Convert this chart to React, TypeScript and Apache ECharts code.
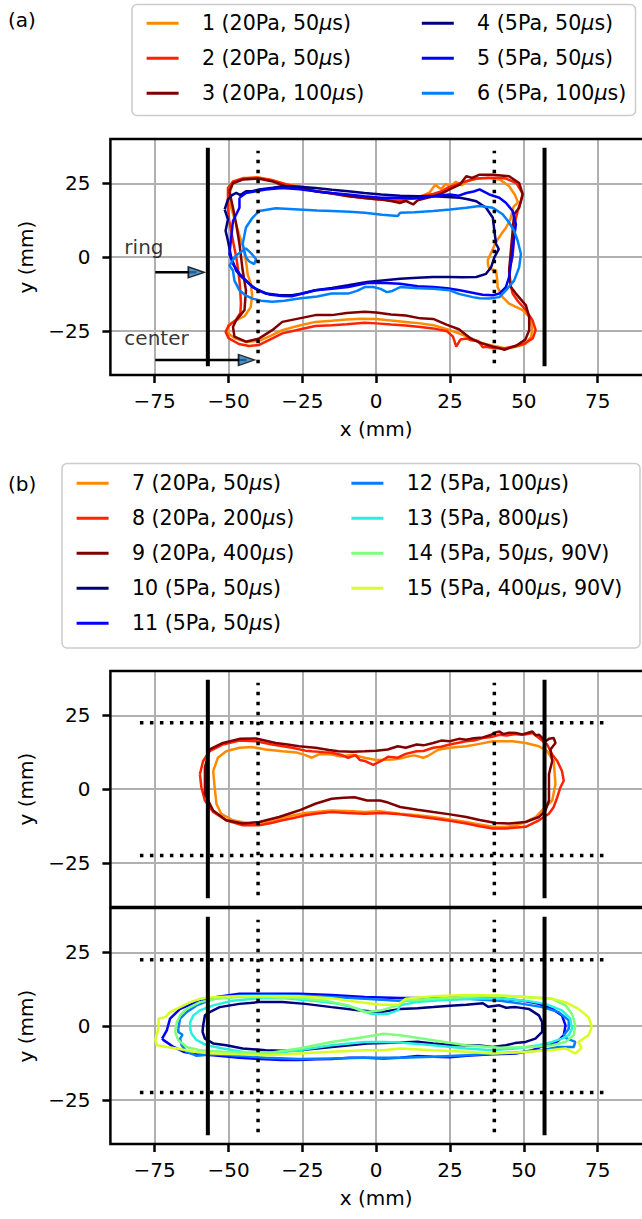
import React, { useEffect, useRef } from 'react';
import * as echarts from 'echarts';

const FONT = 'DejaVu Sans';

// ---------- axes ----------
const X_TICKS = [-75, -50, -25, 0, 25, 50, 75];
const Y_TICKS = [-25, 0, 25];
const X_MIN = -90;
const X_MAX = 90;
const Y_MIN = -40;
const Y_MAX = 40;

// ---------- legend names & colours ----------
const NAMES_A = ['1 (20Pa, 50μs)', '2 (20Pa, 50μs)', '3 (20Pa, 100μs)', '4 (5Pa, 50μs)', '5 (5Pa, 50μs)', '6 (5Pa, 100μs)'];
const COLORS_A = ['#ff8a00', '#ff2200', '#800000', '#000080', '#0000ff', '#0080ff'];
const NAMES_B_TOP = ['7 (20Pa, 50μs)', '8 (20Pa, 200μs)', '9 (20Pa, 400μs)'];
const COLORS_B_TOP = ['#ff8a00', '#ff2200', '#800000'];
const NAMES_B_BOT = ['10 (5Pa, 50μs)', '11 (5Pa, 50μs)', '12 (5Pa, 100μs)', '13 (5Pa, 800μs)', '14 (5Pa, 50μs, 90V)', '15 (5Pa, 400μs, 90V)'];
const COLORS_B_BOT = ['#000080', '#0000ff', '#0080ff', '#26f2dc', '#7dff7a', '#d7ff1f'];

// ---------- contours, panel (a) ----------
const CURVE_1: number[][] = [
  [-49.5, 22], [-48.5, 25.5], [-45, 26.8], [-40, 27], [-35, 26], [-30, 24.5], [-26, 24], [-20, 22.2], [-15, 21.6], [-10, 20.8],
  [-5, 20.2], [0, 19.6], [5, 19.2], [8, 18.2], [10, 19.5], [15, 20.5], [18, 21.8], [20, 24.5], [22, 23], [23.5, 24.8],
  [25, 24], [27, 25.5], [29, 24.3], [31, 25.8], [34, 26.5], [38, 26.8], [42, 26.2], [45, 24], [47, 21], [48, 18.5],
  [46.5, 17], [45.5, 13], [44, 10], [42.5, 8], [40.5, 5], [39.5, 2.7], [37.8, -1], [37.8, -2.4], [38.3, -4], [40.6, -4.6],
  [41, -8], [41.1, -10.2], [42.8, -13.6], [45, -15.8], [49.6, -18], [51.8, -20.3], [52.8, -24], [52.5, -27], [50.5, -29.5], [47, -30.5],
  [44, -31], [40, -30.2], [36, -29.3], [32, -27.5], [28, -25.9], [24, -24.5], [19.3, -23.1], [15, -22.5], [10, -22], [5, -21.5],
  [0, -21], [-5, -20.9], [-10, -21.2], [-15, -21.6], [-20.6, -22], [-26, -23.2], [-31.8, -24.8], [-36, -26.8], [-39.6, -28.4], [-44, -28.8],
  [-48, -27.5], [-50.5, -25.5], [-50, -23], [-47.5, -21.5], [-44.5, -20], [-42.5, -17], [-42, -13], [-42.5, -9], [-43.5, -6], [-44, -2],
  [-45, 3], [-46.5, 8], [-48, 13], [-49.5, 18],
];
const CURVE_2: number[][] = [
  [-50.2, 16.7], [-50.2, 20], [-50.2, 23.4], [-48.5, 25.6], [-45, 26.6], [-40.7, 26.9], [-36, 26.2], [-32, 25], [-26.2, 23.6], [-20, 22.2],
  [-15, 21.6], [-9.5, 20.8], [-4, 20], [0, 19.6], [4, 19.3], [8.1, 19.2], [12, 19.8], [15, 20.6], [19.3, 21.4], [22, 22.2],
  [24, 23.4], [27, 24.5], [30.5, 25.7], [34, 26.6], [38, 26.9], [41, 26.9], [44, 26.6], [47.5, 25], [49.6, 21.5], [49, 19],
  [47.9, 15.6], [47, 12], [46.7, 8.9], [46.5, 4.5], [46.2, 0], [45.2, -3.5], [45, -6.8], [45.5, -9.5], [46.2, -12.4], [48, -15],
  [50.7, -18], [52.9, -21.4], [54, -24.8], [53, -27.6], [50, -29.5], [47.3, -30.2], [43, -31], [40, -30.9], [37, -30.4], [36.1, -30.6],
  [34.5, -28.5], [32, -28.2], [30.5, -27.6], [28.5, -28], [27.1, -30.4], [26, -27], [24, -25.2], [19.3, -24.2], [15, -23.7], [10, -23.2],
  [5, -22.9], [0, -22.5], [-3.9, -22.3], [-10, -22.8], [-15, -23.1], [-20.6, -23.4], [-26, -24.6], [-31.8, -25.9], [-36, -28], [-39.6, -29.8],
  [-43, -30.2], [-46.5, -29.5], [-50, -27.5], [-51, -25.3], [-50, -23.4], [-47.5, -21.3], [-46, -19], [-45.8, -15.8], [-46, -12], [-46.3, -8],
  [-46.8, -4], [-47.4, 0], [-48.3, 4.5], [-49.1, 8.9], [-49.8, 12.5],
];
const CURVE_3: number[][] = [
  [-49.7, 22.3], [-48.5, 25], [-45, 26.3], [-40, 26.6], [-35, 25.6], [-30.7, 24], [-26, 23.4], [-20.6, 22.3], [-15, 21.5], [-9.5, 20.6],
  [-4, 20], [1.7, 19.5], [5, 19], [8.1, 18.4], [10, 19], [12.5, 17.8], [14, 19.2], [17, 20], [19.3, 20.6], [22, 21.5],
  [25, 23], [28.3, 24.5], [30.5, 27.4], [32.5, 26.8], [35, 27.9], [39.5, 27.9], [45, 27.4], [48.4, 25.1], [49.6, 21.2], [48.4, 16.7],
  [46.7, 14.5], [46.2, 8.9], [45.6, 2.1], [45, -4.6], [45.6, -10.2], [47.3, -12.4], [50.7, -16.4], [51.8, -20.3], [51.8, -24.8], [50.5, -28],
  [47.5, -30], [45, -30.9], [43.4, -31.5], [41.5, -30.8], [39.5, -30.4], [35, -29], [32, -27.6], [28, -24.5], [24, -23], [19.3, -21],
  [15, -20.8], [10, -19.8], [5, -19.5], [0, -18.8], [-3.9, -18.6], [-10, -19], [-15, -19.7], [-20.6, -19.7], [-26, -20.8], [-31.8, -22],
  [-35.2, -24.8], [-39.6, -27.6], [-44.1, -28.7], [-48, -27], [-48.5, -23.7], [-47.4, -21.4], [-44.6, -18], [-44.1, -11.3], [-45.2, -4.6], [-46.3, 4.4],
  [-47.4, 11.1], [-48.5, 16.7],
];
const CURVE_4: number[][] = [
  [-51.3, 16.1], [-50.2, 19.5], [-48.8, 21], [-47.4, 21.7], [-46, 21], [-44.1, 22.3], [-42, 22.3], [-39.6, 22.9], [-35, 23.5], [-31.8, 24],
  [-26, 23.8], [-20.6, 23.4], [-15, 22.8], [-9.5, 22.3], [-4, 21.7], [1.7, 21.2], [8.1, 20.8], [14, 20.6], [19.3, 20.6], [24, 20.3],
  [28.3, 20.1], [31, 19.6], [33.9, 18.9], [37.2, 16.7], [39.5, 13.3], [40, 8.9], [40.6, 4.4], [41.5, 2.7], [40, -0.1], [38.9, -3.5],
  [37.2, -5.7], [33.9, -6.8], [29, -6.9], [24.9, -6.8], [19.3, -6.8], [14, -7], [8.1, -7.4], [3, -7.9], [-3.1, -8.5], [-9.5, -9.6],
  [-15, -10.5], [-20.6, -11.3], [-25, -12.4], [-28.5, -13], [-33, -12.9], [-37.4, -12.4], [-40.5, -11], [-43, -9.1], [-45.5, -6.8], [-47.4, -4.6],
  [-49.1, -0.1], [-50.2, 5.5], [-51, 8.9], [-50.2, 12.8],
];
const CURVE_5: number[][] = [
  [-46.3, 20.1], [-44.1, 21.7], [-40.7, 22.3], [-37.4, 22.9], [-31.8, 23.4], [-26, 23], [-20.6, 22.3], [-15, 21.7], [-9.5, 21.2], [-4, 20.6],
  [1.7, 20.1], [8.1, 20.1], [13, 19.8], [19.3, 20.6], [24.9, 21.2], [28, 20.8], [30.5, 21.7], [33, 22.2], [35, 22.9], [38.3, 21.2],
  [41.7, 20.1], [43.9, 18.4], [46.2, 15.6], [47.3, 11.1], [46.7, 6.6], [46.2, 2.1], [45.6, -2.4], [45, -6.8], [43.9, -10.2], [41.7, -12.4],
  [39.5, -13], [36, -12.8], [33.9, -12.4], [30, -11.6], [28.3, -11.3], [24, -10.6], [19.3, -10.2], [14, -9.9], [8.1, -9.1], [3, -8.8],
  [-3.1, -8.8], [-9.5, -10.2], [-15, -10.8], [-20.6, -11.3], [-25, -12.4], [-28.5, -13.3], [-32, -13.2], [-36.3, -12.7], [-39, -11.6], [-41.9, -10.2],
  [-44, -8], [-46.3, -5.7], [-48.5, -2.4], [-49.7, 1], [-49.1, 6.6], [-48.5, 12.2], [-46.3, 16.7],
];
const CURVE_6: number[][] = [
  [-41.9, 13.3], [-39.6, 15.6], [-34, 16.5], [-26.2, 16.1], [-20, 15.8], [-15.1, 15.6], [-9, 15.3], [-3.9, 15], [2, 14.3], [7.3, 13.9],
  [8.1, 15], [13, 15.2], [19.3, 15.6], [25, 16.1], [30.5, 16.7], [35, 17.3], [39.5, 16.7], [42.8, 14.5], [45, 11.7], [46.7, 8.9],
  [47.9, 5.5], [49, 1], [48.4, -3.5], [46.7, -8], [43.9, -11.3], [41.7, -13.6], [38.3, -14.1], [35, -14], [32.7, -13.6], [28, -12.5],
  [24.9, -11.3], [19.3, -10.8], [14, -10.6], [8.1, -10.2], [5.5, -11.5], [3.6, -11.9], [1.5, -10.8], [-1, -10.2], [-3.9, -10.2], [-6.5, -11.5],
  [-9.5, -12.4], [-15.1, -12.4], [-20, -13.4], [-26.2, -14.1], [-31, -14.8], [-35.2, -15.2], [-39, -14.8], [-41.9, -14.1], [-44.5, -12.8], [-46.3, -11.3],
  [-48, -8], [-48.5, -4.6], [-49.7, -2.9], [-47.5, 0.5], [-45.2, 2.1], [-44.1, 2.9], [-42.3, 1.2], [-40.7, -0.7], [-41.3, -2.4], [-43, -1.5],
  [-44.1, -0.1], [-45.2, 4.4], [-44.6, 7.5], [-44.1, 10],
];

// ---------- contours, panel (b) upper ----------
const CURVE_7: number[][] = [
  [-55.2, 6.1], [-54.7, 0.6], [-54.1, -5], [-52.5, -8.4], [-48.5, -10.6], [-43, -11.7], [-37.4, -11.2], [-30.7, -9.5], [-24, -8.1], [-15.1, -7.3],
  [-8, -7.5], [-3.9, -7.8], [1, -7.5], [8.1, -8.4], [14, -8.9], [19.3, -9.5], [25, -10.3], [30.5, -11.2], [35, -12], [39.4, -12.8],
  [43.5, -12.9], [47.3, -12.3], [51, -11], [54, -9.5], [57.3, -6.1], [59.6, -3.9], [60.7, 1.7], [60.1, 9.5], [57.9, 12.8], [55.1, 14.5],
  [50.6, 15.6], [46.1, 16.2], [39.4, 16.2], [35, 15.3], [30.5, 14.5], [24.9, 14], [21, 13.3], [19.3, 12.3], [17.5, 11.2], [15.9, 10.6],
  [13, 11.4], [11.4, 11.2], [8, 10.3], [5.8, 10], [0, 9.8], [-3.9, 10.6], [-8, 11.6], [-12, 11], [-15.1, 11.7], [-19, 11.9],
  [-21.8, 10.6], [-24, 11.5], [-27, 12.4], [-31.8, 12.8], [-37.4, 13.4], [-41.9, 14.2], [-46.3, 14], [-50.8, 12.8], [-53.6, 10.6],
];
const CURVE_8: number[][] = [
  [-59.7, 5], [-58.6, 9.5], [-56.4, 12.8], [-51.9, 15.1], [-46.3, 16.4], [-40.7, 16.2], [-35.2, 15.1], [-28.5, 14], [-24, 13], [-21.8, 12.8],
  [-18, 12.5], [-15.1, 12.3], [-12, 11.6], [-9.5, 10.6], [-7, 11.5], [-5.5, 9.8], [-3.9, 9.5], [-1, 8.2], [1.7, 9.5], [4, 10.9],
  [7.3, 10.6], [10, 11.9], [13.7, 12.8], [16, 12.9], [19.3, 14], [22, 14.3], [24.9, 15.1], [27, 15.5], [30.5, 16.2], [33, 16.4],
  [36.1, 17.3], [39, 17.6], [41.7, 18.4], [44, 18.1], [47.3, 18.6], [50, 18.4], [52.9, 19], [55.1, 17.3], [57.9, 15.1], [59.6, 11.7],
  [61.3, 9.5], [62.9, 6.1], [63.5, 2.8], [62.4, 0.6], [61.3, -2.8], [60.1, -6.1], [58.5, -8.4], [55.1, -10.6], [50.6, -12.8], [43.9, -13.4],
  [39.4, -13.4], [35, -12.6], [30.5, -11.7], [25, -10.8], [19.3, -10], [14, -9.3], [8.1, -8.6], [2, -8.1], [-3.9, -8.4], [-10, -8.1],
  [-15.1, -7.8], [-20, -8.3], [-24, -8.9], [-28, -9.8], [-31.8, -10.6], [-35.5, -11.5], [-39.6, -12.3], [-45.2, -12.3], [-50.8, -10.6], [-55.2, -7.8],
  [-58, -3.9], [-59.2, 0.6],
];
const CURVE_9: number[][] = [
  [-56.4, 13.4], [-51.9, 15.6], [-46.3, 17], [-40.7, 17.1], [-37, 16.3], [-34, 15.6], [-30, 15.1], [-26.2, 14.5], [-20.6, 14], [-16, 13.2],
  [-12.8, 12.8], [-8, 12.6], [-3.9, 12.8], [0, 13], [3.9, 13.4], [7.3, 14.5], [10, 14], [13.7, 15.1], [16, 14.8], [19.3, 15.6],
  [22, 16.4], [24.9, 16.2], [28, 17], [30.5, 16.7], [33, 17.2], [36.1, 17.5], [38.5, 18.2], [40.5, 19.2], [41.7, 19.5], [43, 18.6],
  [45, 19.1], [47.3, 19], [49.5, 18.5], [52.9, 19.5], [54, 18.2], [55.1, 18.4], [57.3, 16.2], [58.5, 17], [60.1, 17.3], [60.7, 15.6],
  [59, 13.4], [59.6, 9.5], [58.5, 5], [58.5, 0.6], [58.5, -3.9], [57.3, -7.3], [55.1, -9.5], [50.6, -11.2], [45, -11.7], [40.5, -11.5],
  [35, -10.5], [30.5, -9.5], [25, -8.6], [19.3, -7.8], [14, -7], [8.1, -6.1], [4, -4.6], [1.3, -3.9], [-3.1, -3.9], [-7.3, -2.8],
  [-11, -3], [-15.1, -3.3], [-20.6, -5], [-26.2, -7.3], [-32.9, -9.5], [-39.6, -11.2], [-45.2, -11.7], [-50.8, -10.6], [-55.2, -7.3], [-58, -1.7],
  [-58, 7.3],
];

// ---------- contours, panel (b) lower ----------
const CURVE_10: number[][] = [
  [-58.6, 0.2], [-58, 3.6], [-56.4, 4.7], [-53, 6.4], [-46.3, 7.5], [-39.6, 8.1], [-31.8, 8.1], [-24, 7.5], [-15.1, 6.4], [-6.1, 5.3],
  [1.7, 4.7], [8.1, 5.8], [14, 6], [19.3, 6.4], [25, 6.9], [30.5, 7.2], [36.1, 7.7], [38, 6.5], [41.7, 7], [44, 6.2],
  [47.3, 6.4], [51.7, 5.8], [55.1, 3.6], [56.2, 1.3], [56.2, -2], [53.9, -4.3], [50.6, -5.4], [47, -5.8], [43.9, -6.5], [39.4, -7.1],
  [35, -6.6], [30.5, -6.5], [25, -6.4], [19.3, -5.9], [14, -5.3], [8.1, -5.6], [2.5, -5.8], [-3.1, -5.9], [-9, -6.5], [-15.1, -7.1],
  [-20, -7.6], [-26.2, -8.2], [-32, -8.4], [-37.4, -8.2], [-45.2, -7.6], [-50.8, -6.5], [-55.2, -5.9], [-58, -4.3], [-58.8, -2],
];
const CURVE_11: number[][] = [
  [-72.5, -4.3], [-70.9, -1.5], [-69.8, 2.5], [-66.4, 5.8], [-60.8, 8.1], [-54.1, 9.8], [-46.3, 10.9], [-37.4, 10.9], [-26.2, 10.9], [-15.1, 10.5],
  [-3.9, 9.8], [8.1, 9.5], [19.3, 9.6], [30.5, 9.8], [41.7, 9.4], [49.5, 8.6], [55.1, 7.5], [59.6, 5.8], [62.9, 3.6], [64.1, 0.2],
  [63.5, -3.1], [61.3, -5.4], [57.3, -6.5], [52.9, -8.2], [47.3, -9.3], [39.4, -9.6], [30.5, -10.1], [25, -10.6], [19.3, -10.4], [14, -10.2],
  [8.1, -10.8], [2.5, -11], [-3.9, -10.8], [-9, -10.8], [-15.1, -11.2], [-20, -11.3], [-26.2, -11.5], [-32, -11.5], [-37.4, -11.3], [-46.3, -10.8],
  [-55.2, -9.9], [-60.8, -9.6], [-65.3, -8.7], [-68.6, -7.1], [-72, -4.8],
];
const CURVE_12: number[][] = [
  [-67, -0.9], [-66.4, 2.5], [-64.2, 4.7], [-60.8, 7], [-55.2, 9.2], [-46.3, 10.3], [-37.4, 10.5], [-26.2, 10.3], [-15.1, 9.8], [-3.9, 9.2],
  [7.3, 8.6], [19.3, 8.9], [30.5, 9.2], [41.7, 8.6], [49.5, 7.5], [56.2, 6.4], [61.8, 4.7], [65.2, 1.9], [65.2, -0.9], [63.5, -3.1],
  [64.5, -4.2], [67.4, -5.4], [66.9, -7.1], [61.8, -7.1], [56.2, -8.2], [47.3, -9], [39.4, -9.3], [30.5, -9.9], [19.3, -10.4], [8.1, -10.8],
  [-3.9, -10.8], [-15.1, -11], [-26.2, -11.2], [-37.4, -10.8], [-46.3, -10.1], [-55.2, -9.6], [-60.8, -10.1], [-64.2, -8.7], [-65.9, -6.5], [-66.4, -4.3],
  [-65.6, -3], [-67, -2],
];
const CURVE_13: number[][] = [
  [-63, -0.9], [-63, 1.3], [-61.9, 3.6], [-59.7, 5.3], [-55.2, 7], [-48.5, 8.6], [-39.6, 9.4], [-30.7, 9.4], [-21.8, 8.6], [-12.8, 7.5],
  [-6.1, 5.8], [-1.7, 4.1], [3.9, 4.1], [7.3, 5.3], [8.1, 7], [13.7, 8.1], [19.3, 8.6], [30.5, 9.2], [41.7, 9.4], [50.6, 8.6],
  [57.3, 7.5], [62.9, 5.3], [65.7, 2.5], [66.3, -0.9], [65.2, -3.1], [62.9, -4.3], [59.6, -5.4], [55.1, -6.5], [47.3, -7.6], [39.4, -8.2],
  [30.5, -7.6], [19.3, -6.5], [8.1, -5.6], [2.5, -5.4], [-3.9, -5.4], [-15.1, -6.5], [-26.2, -8.2], [-35.2, -9.3], [-44.1, -9], [-51.9, -7.6],
  [-57.5, -6.5], [-60.8, -4.8], [-62.5, -2.6],
];
const CURVE_14: number[][] = [
  [-68.1, -2], [-67.5, 1.3], [-66.4, 3.6], [-64.2, 5.8], [-59.7, 8.1], [-54.1, 9.2], [-46.3, 9.8], [-37.4, 9.8], [-26.2, 9.4], [-17.3, 8.6],
  [-9.5, 7], [-3.9, 4.7], [1.7, 5.3], [7.3, 7], [10, 8.6], [19.3, 9.2], [30.5, 9.8], [41.7, 10.3], [50.6, 9.8], [59.6, 9.2],
  [64.1, 7], [66.3, 4.1], [67.4, 0.2], [66.9, -3.1], [64.1, -5.4], [59.6, -6.5], [52.9, -7.1], [41.7, -7.4], [30.5, -6.5], [19.3, -4.8],
  [8.1, -3.1], [2.5, -2.6], [-3.9, -3.7], [-15.1, -5.4], [-26.2, -7.6], [-35.2, -9], [-44.1, -9], [-51.9, -8.7], [-59.7, -8.2], [-64.2, -7.1],
  [-67, -4.8],
];
const CURVE_15: number[][] = [
  [-73.7, -0.3], [-73.7, 2.5], [-71.4, 3], [-69.8, 4.7], [-66.4, 6.4], [-63, 8.1], [-59.7, 9.2], [-54.1, 9.8], [-46.3, 10.1], [-37.4, 10.1],
  [-26.2, 10.1], [-15.1, 9.4], [-6.1, 8.1], [1.7, 7.2], [7.3, 7.2], [10, 9.2], [19.3, 10.1], [30.5, 10.5], [41.7, 10.3], [50.6, 9.8],
  [59.6, 9.2], [64.1, 8.1], [68.5, 5.8], [71.9, 3], [73, -0.3], [71.9, -3.1], [68.5, -5.4], [69.5, -7.5], [67.4, -9.3], [64.1, -7.6],
  [58.5, -8.2], [47.3, -9], [39.4, -9.3], [30.5, -8.7], [19.3, -8.2], [8.1, -7.6], [2.5, -8.2], [-3.9, -8.2], [-15.1, -8.7], [-26.2, -9.3],
  [-37.4, -9.9], [-46.3, -9.6], [-55.2, -9.3], [-61.9, -8.7], [-67.5, -7.6], [-70.9, -7.1], [-74.2, -6.5], [-74.8, -4.8], [-74.2, -2.6],
];

const CURVES_A = [CURVE_1, CURVE_2, CURVE_3, CURVE_4, CURVE_5, CURVE_6];
const CURVES_B_TOP = [CURVE_7, CURVE_8, CURVE_9];
const CURVES_B_BOT = [CURVE_10, CURVE_11, CURVE_12, CURVE_13, CURVE_14, CURVE_15];

// ---------- reference lines & annotations (data units) ----------
const RING_X = [-57, 57];
const RING_Y_EXTENT = [-37, 37];
const CENTER_X = [-40, 40];
const CENTER_Y_EXTENT = [-36, 36];
const B_HLINE_Y = [-22.5, 22.5];
const B_HLINE_X_EXTENT = [-80, 79];
const ANNOT_LABELS = ['ring', 'center'];
const ANNOT_LABEL_POS = [[-85.1, 3.3], [-85.1, -27.5]];
const ARROW_Y = [-5.2, -34.9];
const ARROW_START_X = [-74.8, -74.8];
const ARROW_TIP_X = [-58.2, -41.2];
const ARROW_HEAD_LEN = 5.4;

// ---------- layout (pixels) ----------
const GRID_LEFT = 110.4;
const GRID_W = 537;
const GRID_H = 236;
const GRID_TOPS = [139, 671, 908];
// legend handle: 32px line followed by blank space, so the label starts 23px after the line
const LEGEND_ICON = 'path://M0,0H32V3H0Z M50.3,0H50.31V0.01H50.3Z';

const minus = (v: number) => (v < 0 ? '\u2212' + Math.abs(v) : String(v));
const closed = (pts: number[][]) => pts.concat([pts[0]]);

function buildOption() {
  const series: any[] = [];
  const curve = (name: string, color: string, pts: number[][], g: number) => ({
    type: 'line', name, data: closed(pts), xAxisIndex: g, yAxisIndex: g,
    showSymbol: false, symbol: 'none', silent: true, z: 2,
    lineStyle: { color, width: 2.5 }, itemStyle: { color },
  });
  CURVES_A.forEach((c, i) => series.push(curve(NAMES_A[i], COLORS_A[i], c, 0)));
  CURVES_B_TOP.forEach((c, i) => series.push(curve(NAMES_B_TOP[i], COLORS_B_TOP[i], c, 1)));
  CURVES_B_BOT.forEach((c, i) => series.push(curve(NAMES_B_BOT[i], COLORS_B_BOT[i], c, 2)));

  const seg = (id: string, pts: number[][], g: number, style: any) => ({
    type: 'line', name: id, data: pts, xAxisIndex: g, yAxisIndex: g,
    showSymbol: false, symbol: 'none', silent: true, z: 3, lineStyle: style,
  });
  const solid = { color: '#000', width: 4 };
  const dotted = { color: '#000', width: 3.5, type: [3.5, 6.5], cap: 'butt' };
  [0, 1, 2].forEach((g) => {
    RING_X.forEach((x, k) => series.push(seg(`ring${g}-${k}`, [[x, RING_Y_EXTENT[0]], [x, RING_Y_EXTENT[1]]], g, solid)));
    CENTER_X.forEach((x, k) => series.push(seg(`center${g}-${k}`, [[x, CENTER_Y_EXTENT[0]], [x, CENTER_Y_EXTENT[1]]], g, dotted)));
    if (g > 0) {
      B_HLINE_Y.forEach((y, k) => series.push(seg(`hline${g}-${k}`, [[B_HLINE_X_EXTENT[0], y], [B_HLINE_X_EXTENT[1], y]], g, dotted)));
    }
  });
  // arrows in panel (a)
  ARROW_Y.forEach((y, k) => {
    series.push(seg(`arrow-${k}`, [[ARROW_START_X[k], y], [ARROW_TIP_X[k] - ARROW_HEAD_LEN / 2, y]], 0, { color: '#000', width: 2.5 }));
  });
  series.push({
    type: 'scatter', name: 'arrow-heads', xAxisIndex: 0, yAxisIndex: 0, silent: true, z: 4,
    symbol: 'triangle', symbolRotate: -90, symbolSize: [11, 16],
    itemStyle: { color: '#2a78b8', borderColor: '#000', borderWidth: 1.5 },
    data: ARROW_Y.map((y, k) => [ARROW_TIP_X[k] - ARROW_HEAD_LEN / 2, y]),
  });
  series.push({
    type: 'scatter', name: 'annotations', xAxisIndex: 0, yAxisIndex: 0, silent: true, z: 4,
    symbolSize: 1, itemStyle: { color: 'rgba(0,0,0,0)' },
    label: { show: true, formatter: '{b}', position: [0, 0], align: 'left', verticalAlign: 'middle', fontSize: 20, fontFamily: FONT, color: '#000' },
    data: ANNOT_LABELS.map((n, k) => ({ name: n, value: ANNOT_LABEL_POS[k] })),
  });

  const grid = GRID_TOPS.map((top) => ({ left: GRID_LEFT, top, width: GRID_W, height: GRID_H, show: false }));
  const labelStyle = { fontSize: 20, fontFamily: FONT, color: '#000' };
  const xAxis = GRID_TOPS.map((_, g) => ({
    type: 'value', gridIndex: g, min: X_MIN, max: X_MAX, position: 'bottom',
    axisLine: { show: false, onZero: false },
    axisTick: { show: g !== 1, length: 8, lineStyle: { color: '#000', width: 2.5 }, customValues: X_TICKS },
    axisLabel: { show: g !== 1, customValues: X_TICKS, formatter: minus, margin: 16, ...labelStyle },
    splitLine: { show: true, lineStyle: { color: '#b0b0b0', width: 2 } },
    name: g !== 1 ? 'x (mm)' : '', nameLocation: 'middle', nameGap: 44, nameTextStyle: labelStyle,
  }));
  const yAxis = GRID_TOPS.map((_, g) => ({
    type: 'value', gridIndex: g, min: Y_MIN, max: Y_MAX, position: 'left',
    axisLine: { show: false, onZero: false },
    axisTick: { show: true, length: 8, lineStyle: { color: '#000', width: 2.5 }, customValues: Y_TICKS },
    axisLabel: { show: true, customValues: Y_TICKS, formatter: minus, margin: 20, ...labelStyle },
    splitLine: { show: true, lineStyle: { color: '#b0b0b0', width: 2 } },
    name: 'y (mm)', nameLocation: 'middle', nameGap: 74, nameTextStyle: labelStyle,
  }));

  const LEG_FS = 20.6;
  const rich = {
    i: { fontStyle: 'italic', fontSize: LEG_FS, fontFamily: FONT, color: '#000', lineHeight: 24 },
  };
  const legendCommon = {
    orient: 'vertical', padding: 0, itemGap: 11, itemWidth: 50.31, itemHeight: 3, icon: LEGEND_ICON,
    selectedMode: false, z: 5,
    formatter: (n: string) => n.replace('μ', '{i|μ}'),
    textStyle: { fontSize: LEG_FS, fontFamily: FONT, color: '#000', lineHeight: 24, rich },
  };
  const legend = [
    { ...legendCommon, data: NAMES_A.slice(0, 3), left: 146.6, top: 11.3 },
    { ...legendCommon, data: NAMES_A.slice(3), left: 421.8, top: 11.3 },
    { ...legendCommon, data: [...NAMES_B_TOP, ...NAMES_B_BOT.slice(0, 2)], left: 76.6, top: 471.3 },
    { ...legendCommon, data: NAMES_B_BOT.slice(2), left: 351.4, top: 471.3 },
  ];

  const frame = GRID_TOPS.map((top) => ({
    type: 'rect', z: 100, silent: true,
    shape: { x: GRID_LEFT, y: top, width: GRID_W, height: GRID_H },
    style: { fill: 'none', stroke: '#000', lineWidth: 2.5 },
  }));
  const graphic = [
    { type: 'rect', z: 1, silent: true, shape: { x: 132, y: 4.5, width: 503.5, height: 111, r: 5 }, style: { fill: '#fff', stroke: '#cccccc', lineWidth: 1.5 } },
    { type: 'rect', z: 1, silent: true, shape: { x: 62, y: 463.5, width: 578, height: 184.5, r: 5 }, style: { fill: '#fff', stroke: '#cccccc', lineWidth: 1.5 } },
    { type: 'text', z: 1, silent: true, x: 8, y: 19.5, style: { text: '(a)', fontSize: 20, fontFamily: FONT, fill: '#000', verticalAlign: 'middle' } },
    { type: 'text', z: 1, silent: true, x: 8, y: 483.5, style: { text: '(b)', fontSize: 20, fontFamily: FONT, fill: '#000', verticalAlign: 'middle' } },
    ...frame,
  ];

  return {
    animation: false,
    backgroundColor: '#ffffff',
    textStyle: { fontFamily: FONT },
    grid, xAxis, yAxis, legend, series, graphic,
  };
}

export default function App() {
  const ref = useRef<HTMLDivElement>(null);
  useEffect(() => {
    const chart = echarts.init(ref.current!, null, { renderer: 'svg' });
    chart.setOption(buildOption() as any);
    return () => chart.dispose();
  }, []);
  return <div ref={ref} style={{ position: 'absolute', left: 0, top: 0, width: 642, height: 1219 }} />;
}
